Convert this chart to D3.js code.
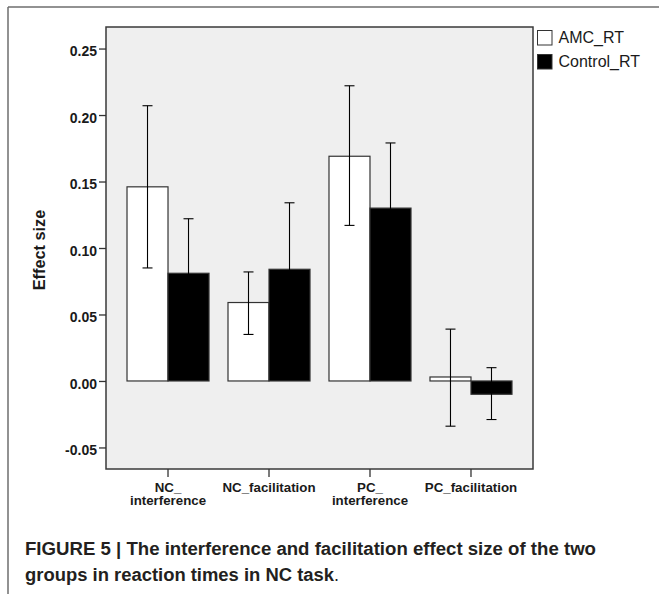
<!DOCTYPE html>
<html>
<head>
<meta charset="utf-8">
<script src="https://cdn.jsdelivr.net/npm/d3@7"></script>
<style>
  html, body { margin: 0; padding: 0; background: #fff; }
  svg { display: block; }
</style>
</head>
<body>
<svg id="chart" width="659" height="594"></svg>
<script>
// ---- data ----
const categories = ["NC_interference", "NC_facilitation", "PC_interference", "PC_facilitation"];
const categoryLines = [["NC_", "interference"], ["NC_facilitation"], ["PC_", "interference"], ["PC_facilitation"]];
const seriesNames = ["AMC_RT", "Control_RT"];
const amcValues = [0.146, 0.059, 0.169, 0.003];
const amcLow = [0.085, 0.035, 0.117, -0.034];
const amcHigh = [0.207, 0.082, 0.222, 0.039];
const controlValues = [0.081, 0.084, 0.130, -0.010];
const controlLow = [0.039, 0.035, 0.081, -0.029];
const controlHigh = [0.122, 0.134, 0.179, 0.010];
const yTicks = [-0.05, 0.00, 0.05, 0.10, 0.15, 0.20, 0.25];
const yTitle = "Effect size";
const captionLine1 = "FIGURE 5 | The interference and facilitation effect size of the two";
const captionLine2 = "groups in reaction times in NC task";

const svg = d3.select("#chart");
const plot = { left: 106, right: 533, top: 27, bottom: 469 };
const fills = { "AMC_RT": "#ffffff", "Control_RT": "#000000" };
const font = "Liberation Sans, Arial, Helvetica, sans-serif";

// outer figure frame
svg.append("line").attr("x1", 8).attr("x2", 659).attr("y1", 7).attr("y2", 7)
  .attr("stroke", "#6e6e6e").attr("stroke-width", 1.5);
svg.append("line").attr("x1", 8).attr("x2", 8).attr("y1", 7).attr("y2", 594)
  .attr("stroke", "#6e6e6e").attr("stroke-width", 1.5);

const y = d3.scaleLinear().domain([-0.0662, 0.2662]).range([plot.bottom, plot.top]);
const x = d3.scaleBand().domain(categories).range([plot.left, plot.right])
  .paddingInner(0.188).paddingOuter(0.208);
const xs = d3.scaleBand().domain(seriesNames).range([0, x.bandwidth()]).padding(0);

// plot background
svg.append("rect").attr("x", plot.left).attr("y", plot.top)
  .attr("width", plot.right - plot.left).attr("height", plot.bottom - plot.top)
  .attr("fill", "#efefef");

const rows = categories.map((c, i) => ({
  cat: c,
  series: [
    { name: "AMC_RT", v: amcValues[i], lo: amcLow[i], hi: amcHigh[i] },
    { name: "Control_RT", v: controlValues[i], lo: controlLow[i], hi: controlHigh[i] }
  ]
}));

const groups = svg.append("g").selectAll("g").data(rows).join("g")
  .attr("transform", d => `translate(${x(d.cat)},0)`);

groups.selectAll("rect").data(d => d.series).join("rect")
  .attr("x", d => xs(d.name))
  .attr("width", xs.bandwidth())
  .attr("y", d => y(Math.max(0, d.v)))
  .attr("height", d => Math.abs(y(d.v) - y(0)))
  .attr("fill", d => fills[d.name])
  .attr("stroke", "#333")
  .attr("stroke-width", 1.2);

const eb = groups.selectAll("g.err").data(d => d.series).join("g").attr("class", "err")
  .attr("transform", d => `translate(${xs(d.name) + xs.bandwidth() / 2},0)`);
eb.append("line").attr("x1", 0).attr("x2", 0)
  .attr("y1", d => y(d.lo)).attr("y2", d => y(d.hi))
  .attr("stroke", "#000").attr("stroke-width", 1.1);
eb.append("line").attr("x1", -5).attr("x2", 5)
  .attr("y1", d => y(d.hi)).attr("y2", d => y(d.hi))
  .attr("stroke", "#000").attr("stroke-width", 1.1);
eb.append("line").attr("x1", -5).attr("x2", 5)
  .attr("y1", d => y(d.lo)).attr("y2", d => y(d.lo))
  .attr("stroke", "#000").attr("stroke-width", 1.1);

// plot frame
svg.append("rect").attr("x", plot.left).attr("y", plot.top)
  .attr("width", plot.right - plot.left).attr("height", plot.bottom - plot.top)
  .attr("fill", "none").attr("stroke", "#3a3a3a").attr("stroke-width", 1.5);

// y axis
const fmt = d3.format(".2f");
const yAxis = svg.append("g").attr("transform", `translate(${plot.left},0)`)
  .call(d3.axisLeft(y).tickValues(yTicks).tickFormat(d => fmt(d).replace("\u2212", "-")).tickSize(7).tickPadding(2));
yAxis.select(".domain").remove();
yAxis.selectAll(".tick line").attr("stroke", "#333").attr("stroke-width", 1.3);
yAxis.selectAll(".tick text")
  .attr("font-family", font)
  .attr("font-weight", "bold").attr("font-size", 14).attr("fill", "#1a1a1a")
  .attr("dy", "0.52em");

// x axis
const xAxis = svg.append("g").attr("transform", `translate(0,${plot.bottom})`)
  .call(d3.axisBottom(x).tickSize(8).tickFormat(""));
xAxis.select(".domain").remove();
xAxis.selectAll(".tick line").attr("stroke", "#333").attr("stroke-width", 1.3);
xAxis.selectAll(".tick text").remove();
categories.forEach((c, i) => {
  const cx = x(c) + x.bandwidth() / 2;
  const t = svg.append("text")
    .attr("x", cx).attr("y", 491.5)
    .attr("text-anchor", "middle")
    .attr("font-family", font)
    .attr("font-weight", "bold").attr("font-size", 13.3).attr("fill", "#1a1a1a");
  categoryLines[i].forEach((ln, j) => {
    t.append("tspan").attr("x", cx).attr("dy", j === 0 ? 0 : 13.5).text(ln);
  });
});

// y title
svg.append("text")
  .attr("transform", `translate(44.5,${(plot.top + plot.bottom) / 2 + 2}) rotate(-90)`)
  .attr("text-anchor", "middle")
  .attr("font-family", font)
  .attr("font-weight", "bold").attr("font-size", 16.3).attr("fill", "#1a1a1a")
  .text(yTitle);

// legend
const legend = svg.append("g").selectAll("g").data(seriesNames).join("g")
  .attr("transform", (d, i) => `translate(537.5,${30.5 + i * 24})`);
legend.append("rect").attr("width", 14.5).attr("height", 14.5)
  .attr("fill", d => fills[d]).attr("stroke", "#333").attr("stroke-width", 1);
legend.append("text").attr("x", 21).attr("y", 12.5)
  .attr("font-family", font)
  .attr("font-size", 16).attr("fill", "#1a1a1a")
  .text(d => d);

// caption
svg.append("text").attr("x", 25).attr("y", 555)
  .attr("font-family", font)
  .attr("font-weight", "bold").attr("font-size", 18).attr("fill", "#231f20")
  .attr("textLength", 571).attr("lengthAdjust", "spacingAndGlyphs")
  .text(captionLine1);
svg.append("text").attr("x", 25).attr("y", 581)
  .attr("font-family", font)
  .attr("font-weight", "bold").attr("font-size", 18).attr("fill", "#231f20")
  .attr("textLength", 309).attr("lengthAdjust", "spacingAndGlyphs")
  .text(captionLine2);
svg.append("text").attr("x", 334).attr("y", 581)
  .attr("font-family", font)
  .attr("font-size", 18).attr("fill", "#231f20")
  .text(".");
</script>
</body>
</html>
